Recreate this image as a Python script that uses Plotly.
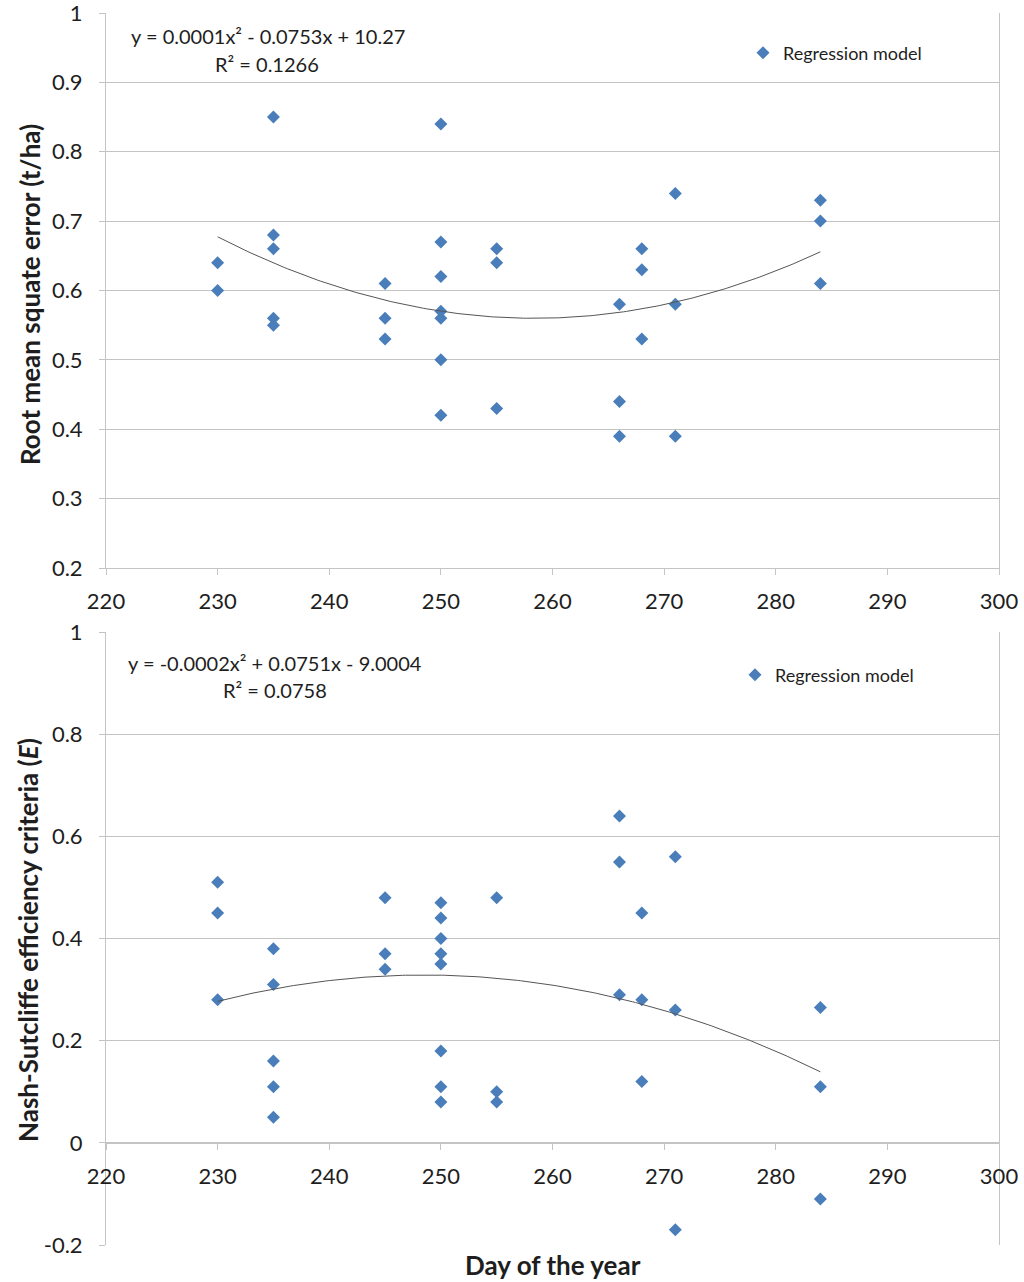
import numpy as np
import plotly.graph_objects as go

# ---- data ----
rmse_day = [230, 230,
            235, 235, 235, 235, 235,
            245, 245, 245,
            250, 250, 250, 250, 250, 250, 250,
            255, 255, 255,
            266, 266, 266,
            268, 268, 268,
            271, 271, 271,
            284, 284, 284]
rmse_val = [0.64, 0.60,
            0.85, 0.68, 0.66, 0.56, 0.55,
            0.61, 0.56, 0.53,
            0.84, 0.67, 0.62, 0.57, 0.56, 0.50, 0.42,
            0.66, 0.64, 0.43,
            0.58, 0.44, 0.39,
            0.66, 0.63, 0.53,
            0.74, 0.58, 0.39,
            0.73, 0.70, 0.61]

nse_day = [230, 230, 230,
           235, 235, 235, 235, 235,
           245, 245, 245,
           250, 250, 250, 250, 250, 250, 250, 250,
           255, 255, 255,
           266, 266, 266,
           268, 268, 268,
           271, 271, 271,
           284, 284, 284]
nse_val = [0.51, 0.45, 0.28,
           0.38, 0.31, 0.16, 0.11, 0.05,
           0.48, 0.37, 0.34,
           0.47, 0.44, 0.40, 0.37, 0.35, 0.18, 0.11, 0.08,
           0.48, 0.10, 0.08,
           0.64, 0.55, 0.29,
           0.45, 0.28, 0.12,
           0.56, 0.26, -0.17,
           0.265, 0.11, -0.11]

x_ticks = [220, 230, 240, 250, 260, 270, 280, 290, 300]
top_yticks = [0.2, 0.3, 0.4, 0.5, 0.6, 0.7, 0.8, 0.9, 1.0]
top_ytext = ["0.2", "0.3", "0.4", "0.5", "0.6", "0.7", "0.8", "0.9", "1"]
bot_yticks = [-0.2, 0, 0.2, 0.4, 0.6, 0.8, 1.0]
bot_ytext = ["-0.2", "0", "0.2", "0.4", "0.6", "0.8", "1"]

eq_top = "y = 0.0001x² - 0.0753x + 10.27"
r2_top = "R² = 0.1266"
eq_bot = "y = -0.0002x² + 0.0751x - 9.0004"
r2_bot = "R² = 0.0758"
legend_name = "Regression model"

# ---- fits (2nd order polynomial trend lines) ----
def trend(xs, ys):
    c = np.polyfit(xs, ys, 2)
    xx = np.linspace(min(xs), max(xs), 200)
    return xx, np.polyval(c, xx)

tx1, ty1 = trend(rmse_day, rmse_val)
tx2, ty2 = trend(nse_day, nse_val)

W, H = 1024, 1282
FONT = "Lato"
BLUE = "#4A7EBB"
GRID = "#C4C4C4"
TXT = "#1e1e1e"

def fy(px):
    return 1 - px / H

def fx(px):
    return px / W

top_dom = [fy(568), fy(13)]
bot_dom = [fy(1245), fy(632)]
x_dom = [fx(106), fx(999)]

fig = go.Figure()

marker = dict(symbol="diamond", size=10, color=BLUE, line=dict(width=0))

fig.add_trace(go.Scatter(x=rmse_day, y=rmse_val, mode="markers", marker=marker,
                         name=legend_name, xaxis="x", yaxis="y", legend="legend"))
fig.add_trace(go.Scatter(x=tx1, y=ty1, mode="lines", line=dict(color="#555555", width=1),
                         showlegend=False, xaxis="x", yaxis="y"))
fig.add_trace(go.Scatter(x=nse_day, y=nse_val, mode="markers", marker=marker,
                         name=legend_name, xaxis="x2", yaxis="y2", legend="legend2"))
fig.add_trace(go.Scatter(x=tx2, y=ty2, mode="lines", line=dict(color="#555555", width=1),
                         showlegend=False, xaxis="x2", yaxis="y2"))

tickfont = dict(family=FONT, size=22, color=TXT)

# y=0 position in paper fraction for bottom x axis
zero_frac = bot_dom[0] + (0 - (-0.2)) / (1.0 - (-0.2)) * (bot_dom[1] - bot_dom[0])

common = dict(automargin=False, ticklabeloverflow="allow", tickfont=tickfont,
              ticks="outside", ticklen=6, tickcolor=GRID, zeroline=False,
              showline=True, linecolor=GRID, linewidth=1)

fig.update_layout(
    template="none",
    width=W, height=H,
    margin=dict(l=0, r=0, t=0, b=0, pad=0),
    paper_bgcolor="white", plot_bgcolor="white",
    font=dict(family=FONT, color=TXT),
    xaxis=dict(domain=x_dom, anchor="y", range=[220, 300], tickvals=x_ticks,
               showgrid=False, mirror=False, ticklabelstandoff=8, **common),
    yaxis=dict(domain=top_dom, anchor="x", range=[0.2, 1.0], tickvals=top_yticks,
               ticktext=top_ytext, showgrid=True, gridcolor=GRID, gridwidth=1,
               mirror=True, ticklabelstandoff=12, **common),
    xaxis2=dict(domain=x_dom, anchor="free", position=zero_frac, range=[220, 300],
                tickvals=x_ticks, showgrid=False, ticklabelstandoff=8, **common),
    yaxis2=dict(domain=bot_dom, anchor="x2", range=[-0.2, 1.0], tickvals=bot_yticks,
                ticktext=bot_ytext, showgrid=True, gridcolor=GRID, gridwidth=1,
                mirror=True, ticklabelstandoff=12, **common),
    legend=dict(x=fx(743), y=fy(53), xanchor="left", yanchor="middle",
                font=dict(family=FONT, size=18, color=TXT), bgcolor="rgba(0,0,0,0)"),
    legend2=dict(x=fx(735), y=fy(675), xanchor="left", yanchor="middle",
                 font=dict(family=FONT, size=18, color=TXT), bgcolor="rgba(0,0,0,0)"),
)

ann_font = dict(family=FONT, size=20, color=TXT)
title_font = dict(family=FONT, size=26, color=TXT)
fig.add_annotation(text=eq_top, x=fx(268), y=fy(36), xref="paper", yref="paper",
                   xanchor="center", yanchor="middle", showarrow=False, font=ann_font)
fig.add_annotation(text=r2_top, x=fx(267), y=fy(64), xref="paper", yref="paper",
                   xanchor="center", yanchor="middle", showarrow=False, font=ann_font)
fig.add_annotation(text=eq_bot, x=fx(275), y=fy(663), xref="paper", yref="paper",
                   xanchor="center", yanchor="middle", showarrow=False, font=ann_font)
fig.add_annotation(text=r2_bot, x=fx(275), y=fy(690), xref="paper", yref="paper",
                   xanchor="center", yanchor="middle", showarrow=False, font=ann_font)

fig.add_annotation(text="<b>Root mean squate error (t/ha)</b>", x=fx(30), y=fy(295),
                   xref="paper", yref="paper", textangle=-90, showarrow=False,
                   xanchor="center", yanchor="middle", font=title_font)
fig.add_annotation(text="<b>Nash-Sutcliffe efficiency criteria (<i>E</i>)</b>", x=fx(28), y=fy(940),
                   xref="paper", yref="paper", textangle=-90, showarrow=False,
                   xanchor="center", yanchor="middle", font=title_font)
fig.add_annotation(text="<b>Day of the year</b>", x=fx(553), y=fy(1265),
                   xref="paper", yref="paper", showarrow=False,
                   xanchor="center", yanchor="middle", font=title_font)

fig.write_html("out.html", config={"displayModeBar": False},
               post_script="document.body.style.margin='0';document.body.style.overflow='hidden';")
